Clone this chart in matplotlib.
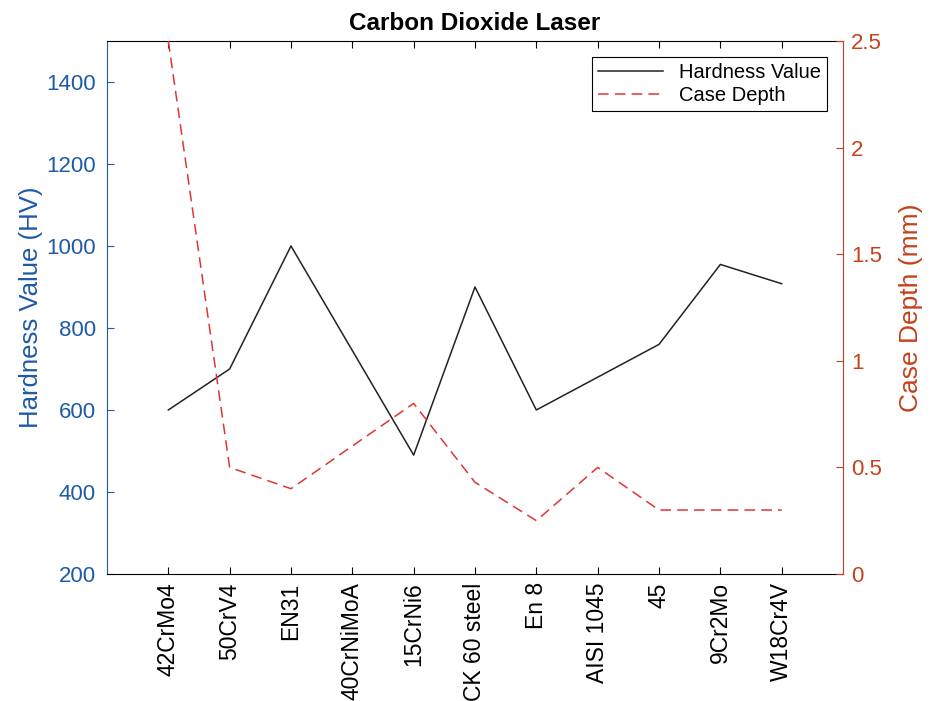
import matplotlib.pyplot as plt

plt.rcParams['font.family'] = ['Liberation Sans', 'DejaVu Sans']

materials = ['42CrMo4', '50CrV4', 'EN31', '40CrNiMoA', '15CrNi6', 'CK 60 steel',
             'En 8', 'AISI 1045', '45', '9Cr2Mo', 'W18Cr4V']
hardness = [600, 700, 1000, 745, 490, 900, 600, 680, 760, 955, 908]
case_depth = [2.5, 0.5, 0.4, 0.6, 0.8, 0.43, 0.25, 0.5, 0.3, 0.3, 0.3]

left_col = '#1f5aa6'
right_col = '#c4411b'

fig = plt.figure(figsize=(9.31, 7.01), dpi=100)
ax = fig.add_axes([0.1149, 0.1812, 0.7906, 0.7603])
x = list(range(1, len(materials) + 1))

l1, = ax.plot(x, hardness, color='#222222', lw=1.1, label='Hardness Value')
ax.set_xlim(0, 12)
ax.set_ylim(200, 1500)
ax.set_yticks(range(200, 1501, 200))
ax.set_xticks(x)
ax.set_xticklabels(materials, rotation=90, fontsize=16.5)
ax.set_ylabel('Hardness Value (HV)', color=left_col, fontsize=18.5, labelpad=2)
ax.tick_params(axis='y', colors=left_col, labelsize=16, direction='in', length=5, pad=8)
ax.tick_params(axis='x', direction='in', length=5, top=True, pad=6)
ax.spines['left'].set_color(left_col)
ax.spines['right'].set_visible(False)

ax2 = ax.twinx()
l2, = ax2.plot(x, case_depth, color='#e03535', lw=1.1, ls=(0, (7, 4)), label='Case Depth')
ax2.set_ylim(0, 2.5)
ax2.set_yticks([0, 0.5, 1, 1.5, 2, 2.5])
ax2.set_yticklabels(['0', '0.5', '1', '1.5', '2', '2.5'])
ax2.set_ylabel('Case Depth (mm)', color=right_col, fontsize=19, labelpad=12)
ax2.tick_params(axis='y', colors=right_col, labelsize=16, direction='in', length=5, pad=6)
ax2.spines['right'].set_color(right_col)
ax2.spines['left'].set_visible(False)
ax2.spines['top'].set_visible(False)
ax2.spines['bottom'].set_visible(False)

leg = ax2.legend(handles=[l1, l2], loc='upper right', fontsize=14.5, fancybox=False,
                 edgecolor='black', framealpha=1, borderaxespad=0.8, handlelength=3.2,
                 borderpad=0.3, labelspacing=0.2)
leg.get_frame().set_linewidth(0.8)

ax.set_title('Carbon Dioxide Laser', fontsize=17.5, fontweight='bold', pad=8)

fig.savefig('out.png', dpi=100)
